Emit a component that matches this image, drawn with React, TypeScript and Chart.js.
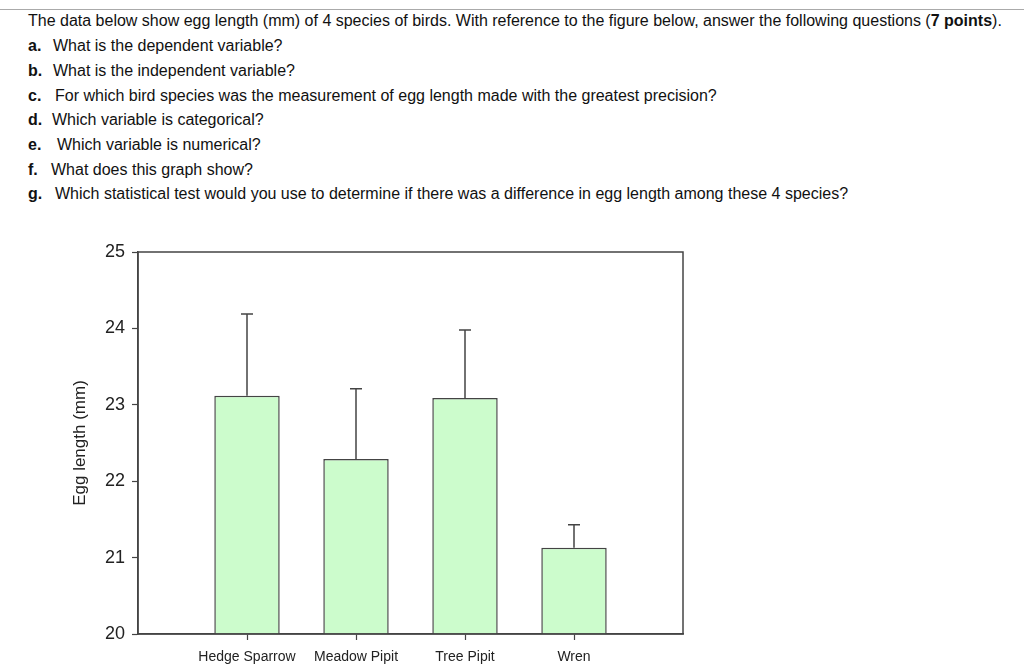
import React, { useEffect, useRef } from "react";
import { Chart, registerables } from "chart.js";

Chart.register(...registerables);

const categories = ["Hedge Sparrow", "Meadow Pipit", "Tree Pipit", "Wren"];
const meanLength = [23.12, 22.29, 23.09, 21.13];
const errorUp = [1.07, 0.92, 0.89, 0.3];
const yTicks = [20, 21, 22, 23, 24, 25];

const intro =
  "The data below show egg length (mm) of 4 species of birds. With reference to the figure below, answer the following questions (";
const questionLabels = ["a.", "b.", "c.", "d.", "e.", "f.", "g."];
const questionTexts = [
  "What is the dependent variable?",
  "What is the independent variable?",
  "For which bird species was the measurement of egg length made with the greatest precision?",
  "Which variable is categorical?",
  "Which variable is numerical?",
  "What does this graph show?",
  "Which statistical test would you use to determine if there was a difference in egg length among these 4 species?",
];
const questionTextX = [53, 53, 55, 52, 57, 51, 55];

const FONT = '"Liberation Sans", Arial, sans-serif';

export default function App() {
  const canvasRef = useRef<HTMLCanvasElement | null>(null);

  useEffect(() => {
    const canvas = canvasRef.current;
    if (!canvas) return;
    const labels = ["", ...categories, ""];
    const data = [null, ...meanLength, null];
    const errs = [null, ...errorUp, null];

    const framePlugin = {
      id: "frame",
      afterDraw(chart: any) {
        const { ctx, chartArea } = chart;
        ctx.save();
        ctx.strokeStyle = "#444";
        ctx.lineWidth = 1.5;
        ctx.strokeRect(chartArea.left, chartArea.top, chartArea.right - chartArea.left, chartArea.bottom - chartArea.top);
        ctx.restore();
      },
    };

    const errorPlugin = {
      id: "errorbars",
      afterDatasetsDraw(chart: any) {
        const { ctx } = chart;
        const meta = chart.getDatasetMeta(0);
        const yScale = chart.scales.y;
        ctx.save();
        ctx.strokeStyle = "#444";
        ctx.lineWidth = 1.5;
        meta.data.forEach((bar: any, i: number) => {
          const v = data[i];
          const e = errs[i];
          if (v == null || e == null) return;
          const x = bar.x;
          const y0 = yScale.getPixelForValue(v);
          const y1 = yScale.getPixelForValue(v + e);
          ctx.beginPath();
          ctx.moveTo(x, y0);
          ctx.lineTo(x, y1);
          ctx.moveTo(x - 6, y1);
          ctx.lineTo(x + 6, y1);
          ctx.stroke();
        });
        ctx.restore();
      },
    };

    const chart = new Chart(canvas, {
      type: "bar",
      data: {
        labels,
        datasets: [
          {
            data,
            base: 20,
            backgroundColor: "#ccfccc",
            borderColor: "#444",
            borderWidth: 1.5,
            categoryPercentage: 1,
            barPercentage: 0.6,
          } as any,
        ],
      },
      options: {
        animation: false,
        responsive: false,
        maintainAspectRatio: false,
        layout: { padding: { top: 32, right: 341, bottom: 0, left: 0 } },
        plugins: { legend: { display: false }, tooltip: { enabled: false } },
        scales: {
          x: {
            type: "category",
            offset: false,
            grid: {
              offset: false,
              drawOnChartArea: false,
              tickLength: 6,
              tickWidth: 1.2,
              tickColor: (c: any) => (c.index === 0 || c.index === labels.length - 1 ? "rgba(0,0,0,0)" : "#444"),
            },
            border: { color: "#444", width: 1.5 },
            ticks: {
              autoSkip: false,
              maxRotation: 0,
              minRotation: 0,
              padding: 9,
              color: "#222",
              font: { family: FONT, size: 14 },
            },
            afterFit(scale: any) {
              scale.height = 36;
            },
          },
          y: {
            min: yTicks[0],
            max: yTicks[yTicks.length - 1],
            afterBuildTicks(scale: any) {
              scale.ticks = yTicks.map((v) => ({ value: v }));
            },
            grid: { drawOnChartArea: false, tickLength: 6, tickWidth: 1.2, tickColor: "#444" },
            border: { color: "#444", width: 1.5 },
            ticks: { padding: 7, color: "#222", font: { family: FONT, size: 18 } },
            title: {
              display: true,
              text: "Egg length (mm)",
              color: "#222",
              font: { family: FONT, size: 17 },
              padding: { top: 70, bottom: 0 },
            },
            afterFit(scale: any) {
              scale.width = 138;
            },
          },
        },
      },
      plugins: [framePlugin, errorPlugin],
    } as any);
    return () => chart.destroy();
  }, []);

  const lineTop = (i: number) => 27 + i * 24.7 - 14.54;

  return (
    <div
      style={{
        position: "absolute",
        left: 0,
        top: 0,
        width: 1024,
        height: 670,
        background: "#fff",
        fontFamily: FONT,
        color: "#111",
        overflow: "hidden",
      }}
    >
      <div style={{ position: "absolute", left: 0, top: 9, width: 1024, height: 1, background: "#aaa" }} />
      <div
        style={{
          position: "absolute",
          left: 28,
          top: lineTop(0),
          fontSize: 16,
          lineHeight: "18px",
          whiteSpace: "nowrap",
        }}
      >
        {intro}
        <b>7 points</b>).
      </div>
      {questionLabels.map((lab, i) => (
        <React.Fragment key={lab}>
          <div
            style={{
              position: "absolute",
              left: 28,
              top: lineTop(i + 1),
              fontSize: 16,
              lineHeight: "18px",
              fontWeight: "bold",
            }}
          >
            {lab}
          </div>
          <div
            style={{
              position: "absolute",
              left: questionTextX[i],
              top: lineTop(i + 1),
              fontSize: 16,
              lineHeight: "18px",
              whiteSpace: "nowrap",
            }}
          >
            {questionTexts[i]}
          </div>
        </React.Fragment>
      ))}
      <canvas
        ref={canvasRef}
        width={1024}
        height={450}
        style={{ position: "absolute", left: 0, top: 220, width: 1024, height: 450 }}
      />
    </div>
  );
}
